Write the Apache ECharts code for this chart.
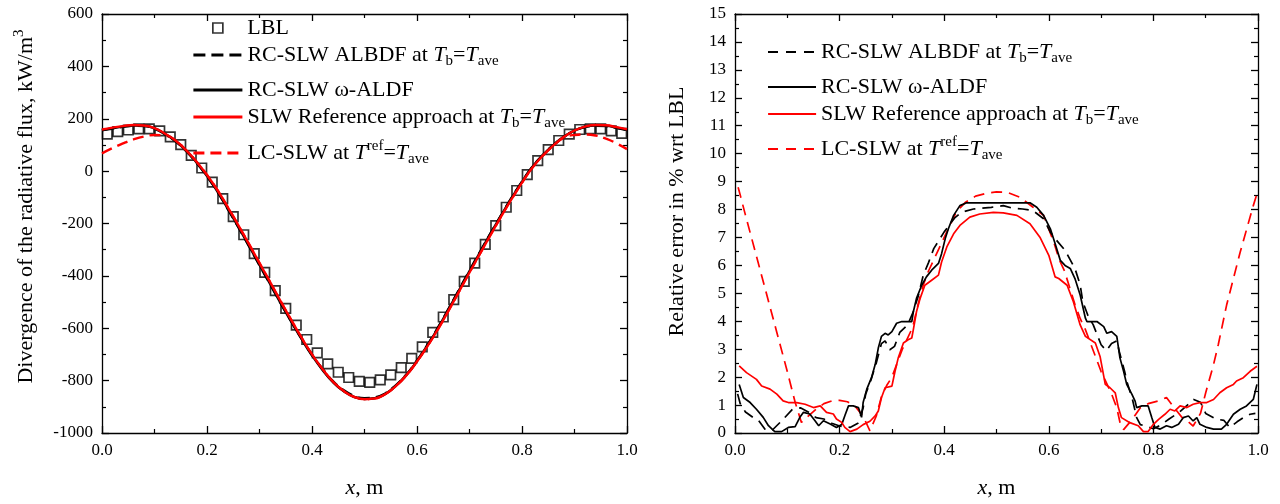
<!DOCTYPE html>
<html>
<head>
<meta charset="utf-8">
<script src="https://cdn.jsdelivr.net/npm/echarts@6.0.0/dist/echarts.min.js"></script>
<style>
html,body{margin:0;padding:0;background:#fff;}
#chart{width:1280px;height:504px;}
</style>
</head>
<body>
<div id="chart"></div>
<script>
// ---------------- DATA ----------------
// Left panel: divergence of the radiative flux (kW/m3)
const lblX = [0.01,0.03,0.05,0.07,0.09,0.11,0.13,0.15,0.17,0.19,0.21,0.23,0.25,0.27,0.29,0.31,0.33,0.35,0.37,0.39,0.41,0.43,0.45,0.47,0.49,0.51,0.53,0.55,0.57,0.59,0.61,0.63,0.65,0.67,0.69,0.71,0.73,0.75,0.77,0.79,0.81,0.83,0.85,0.87,0.89,0.91,0.93,0.95,0.97,0.99];
const lblY = [141,151,157,161,161,154,131,101,60,12,-42,-105,-174,-243,-315,-387,-456,-524,-588,-643,-694,-736,-768,-788,-803,-807,-797,-778,-750,-715,-671,-616,-557,-491,-421,-351,-280,-208,-138,-74,-13,40,82,117,141,159,161,161,154,144];

const fluxX = [0,0.02,0.04,0.06,0.08,0.10,0.12,0.14,0.16,0.18,0.20,0.22,0.24,0.26,0.28,0.30,0.32,0.34,0.36,0.38,0.40,0.42,0.44,0.46,0.48,0.50,0.52,0.54,0.56,0.58,0.60,0.62,0.64,0.66,0.68,0.70,0.72,0.74,0.76,0.78,0.80,0.82,0.84,0.86,0.88,0.90,0.92,0.94,0.96,0.98,1.00];
const fluxAlbdf = [156,163,169,173,172,162,141,114,77,32,-20,-79,-146,-215,-287,-359,-431,-503,-572,-639,-701,-755,-802,-836,-858,-867,-864,-848,-817,-776,-723,-663,-597,-526,-453,-380,-308,-238,-169,-102,-40,17,62,100,131,154,168,173,172,165,156];
const fluxOmega = [157,164,170,174,173,163,142,115,78,33,-19,-78,-145,-214,-286,-358,-430,-503,-573,-641,-704,-759,-806,-840,-862,-870,-867,-850,-819,-778,-725,-665,-599,-528,-455,-382,-310,-239,-170,-103,-41,17,62,100,132,155,169,174,173,166,157];
const fluxRef = [159,166,172,176,174,164,143,117,80,36,-15,-73,-139,-208,-279,-351,-423,-496,-567,-636,-700,-756,-804,-839,-862,-871,-868,-851,-820,-779,-727,-668,-603,-533,-460,-387,-315,-244,-174,-107,-44,14,60,98,131,155,170,176,175,168,160];
const fluxLc = [68,88,106,121,132,138,136,117,80,36,-15,-73,-139,-208,-279,-351,-423,-496,-567,-636,-700,-756,-804,-839,-862,-871,-868,-851,-820,-779,-727,-668,-603,-533,-460,-387,-315,-244,-174,-107,-44,14,60,98,128,138,140,136,124,106,84];

// Right panel: relative error in % wrt LBL, [x, error]
const errAlbdf = [[0.005,1.4],[0.01,1.05],[0.02,0.75],[0.035,0.55],[0.045,0.45],[0.057,0.14],[0.07,0.08],[0.09,0.45],[0.11,0.85],[0.125,0.9],[0.14,0.75],[0.155,0.55],[0.17,0.5],[0.185,0.35],[0.2,0.25],[0.22,0.2],[0.235,0.35],[0.245,0.9],[0.25,1.4],[0.26,1.9],[0.27,2.5],[0.28,3.2],[0.287,3.3],[0.296,2.98],[0.305,3.1],[0.315,3.6],[0.33,3.87],[0.34,4.3],[0.35,4.88],[0.36,5.65],[0.37,6.1],[0.38,6.6],[0.39,6.9],[0.4,7.2],[0.41,7.45],[0.42,7.7],[0.433,7.9],[0.456,8.02],[0.49,8.08],[0.513,8.14],[0.53,8.05],[0.55,8.02],[0.57,7.96],[0.59,7.67],[0.603,7.19],[0.612,6.96],[0.631,6.54],[0.65,5.89],[0.66,5.3],[0.665,4.7],[0.675,4.2],[0.685,3.87],[0.7,3.16],[0.71,2.95],[0.72,3.2],[0.73,3.3],[0.735,2.9],[0.745,2.2],[0.75,1.8],[0.76,1.2],[0.768,0.55],[0.775,0.3],[0.785,0.25],[0.8,0.15],[0.815,0.3],[0.83,0.5],[0.85,0.75],[0.865,1.0],[0.877,1.2],[0.89,1.1],[0.9,0.7],[0.92,0.5],[0.935,0.45],[0.946,0.2],[0.96,0.4],[0.972,0.55],[0.985,0.67],[0.995,0.7]];
const errOmega = [[0.008,1.74],[0.016,1.27],[0.029,1.09],[0.041,0.85],[0.054,0.56],[0.064,0.26],[0.076,0.05],[0.089,0.05],[0.102,0.2],[0.115,0.23],[0.124,0.56],[0.131,0.74],[0.143,0.68],[0.153,0.44],[0.16,0.26],[0.169,0.44],[0.182,0.32],[0.194,0.2],[0.204,0.3],[0.21,0.62],[0.217,0.97],[0.226,0.97],[0.236,0.91],[0.242,0.56],[0.245,1.09],[0.252,1.57],[0.261,1.98],[0.268,2.45],[0.274,3.04],[0.28,3.46],[0.287,3.57],[0.293,3.51],[0.3,3.63],[0.309,3.93],[0.319,3.99],[0.338,3.99],[0.341,4.34],[0.347,4.82],[0.357,5.29],[0.366,5.59],[0.376,5.83],[0.389,6.07],[0.395,6.42],[0.402,6.96],[0.408,7.31],[0.418,7.79],[0.43,8.14],[0.443,8.24],[0.564,8.24],[0.577,8.08],[0.59,7.79],[0.603,7.31],[0.612,6.78],[0.622,6.18],[0.631,6.0],[0.641,5.89],[0.65,5.53],[0.66,4.94],[0.67,4.11],[0.673,3.99],[0.692,3.99],[0.705,3.81],[0.711,3.57],[0.72,3.63],[0.73,3.46],[0.736,2.69],[0.743,2.21],[0.749,1.74],[0.759,1.38],[0.765,1.14],[0.768,0.91],[0.778,0.97],[0.79,0.97],[0.797,0.55],[0.803,0.2],[0.813,0.14],[0.825,0.26],[0.835,0.2],[0.848,0.31],[0.857,0.55],[0.867,0.61],[0.876,0.43],[0.883,0.55],[0.889,0.31],[0.902,0.2],[0.915,0.14],[0.93,0.14],[0.94,0.31],[0.953,0.67],[0.966,0.85],[0.978,0.97],[0.991,1.2],[0.998,1.74]];
const errRef = [[0.008,2.4],[0.022,2.16],[0.041,1.92],[0.051,1.68],[0.067,1.57],[0.08,1.39],[0.092,1.15],[0.102,1.09],[0.118,1.09],[0.134,1.03],[0.15,0.91],[0.163,0.97],[0.175,0.74],[0.188,0.68],[0.194,0.5],[0.204,0.38],[0.21,0.2],[0.22,0.05],[0.233,0.14],[0.245,0.3],[0.258,0.42],[0.268,0.61],[0.274,0.79],[0.28,1.26],[0.287,1.62],[0.3,1.68],[0.306,2.21],[0.312,2.68],[0.322,3.22],[0.331,3.34],[0.338,3.4],[0.341,3.7],[0.347,4.34],[0.354,4.82],[0.363,5.29],[0.376,5.47],[0.389,5.65],[0.395,6.12],[0.405,6.66],[0.418,7.13],[0.43,7.43],[0.449,7.73],[0.468,7.84],[0.494,7.9],[0.513,7.88],[0.539,7.79],[0.564,7.49],[0.583,7.01],[0.6,6.36],[0.612,5.59],[0.619,5.53],[0.635,5.29],[0.647,4.7],[0.66,3.87],[0.67,3.46],[0.689,3.22],[0.698,2.74],[0.708,1.74],[0.717,1.62],[0.727,1.44],[0.733,0.91],[0.739,0.55],[0.755,0.37],[0.771,0.26],[0.781,0.05],[0.79,0.05],[0.8,0.31],[0.81,0.49],[0.822,0.67],[0.832,0.85],[0.841,0.79],[0.851,0.97],[0.864,0.91],[0.876,1.03],[0.889,1.09],[0.902,1.09],[0.915,1.2],[0.927,1.44],[0.94,1.62],[0.953,1.74],[0.959,1.86],[0.972,1.98],[0.985,2.21],[0.998,2.39]];
const errLc = [[0.006,8.8],[0.02,7.8],[0.04,6.4],[0.06,5.0],[0.08,3.6],[0.1,2.2],[0.115,1.1],[0.127,0.38],[0.14,0.6],[0.155,0.85],[0.17,1.05],[0.185,1.15],[0.2,1.17],[0.215,1.12],[0.23,0.95],[0.245,0.6],[0.258,0.08],[0.27,0.6],[0.28,1.3],[0.29,1.7],[0.3,2.0],[0.31,2.5],[0.32,3.0],[0.33,3.4],[0.34,3.8],[0.35,4.6],[0.36,5.3],[0.37,5.8],[0.38,6.2],[0.39,6.6],[0.4,7.0],[0.41,7.4],[0.42,7.8],[0.43,8.05],[0.44,8.25],[0.46,8.48],[0.48,8.58],[0.5,8.63],[0.52,8.62],[0.545,8.44],[0.57,8.08],[0.59,7.79],[0.6,7.3],[0.61,6.8],[0.62,6.2],[0.63,5.8],[0.64,5.2],[0.65,4.6],[0.66,4.1],[0.67,3.7],[0.68,3.2],[0.69,2.7],[0.7,2.2],[0.71,1.8],[0.72,1.4],[0.73,0.9],[0.737,0.3],[0.743,0.12],[0.76,0.5],[0.775,0.9],[0.79,1.05],[0.81,1.15],[0.825,1.27],[0.84,0.9],[0.855,0.55],[0.867,0.4],[0.876,0.25],[0.89,0.7],[0.9,1.44],[0.915,2.45],[0.924,3.16],[0.94,4.58],[0.966,6.48],[0.991,8.14],[0.997,8.5]];

// Legend labels (rich text)
const legendLabels = {
  LBL: '{n|LBL}',
  ALBDF: '{n|RC-SLW ALBDF at }{i|T}{sub|b}{n|=}{i|T}{sub|ave}',
  OMEGA: '{n|RC-SLW ω-ALDF}',
  REF: '{n|SLW Reference approach at }{i|T}{sub|b}{n|=}{i|T}{sub|ave}',
  LC: '{n|LC-SLW at }{i|T}{sup|ref}{n|=}{i|T}{sub|ave}'
};

// ---------------- CHART ----------------
const FONT = "'Liberation Serif', 'Times New Roman', serif";
const rich = {
  n: {fontFamily: FONT, fontSize: 22, color: '#000', lineHeight: 28},
  i: {fontFamily: FONT, fontSize: 22, color: '#000', fontStyle: 'italic', lineHeight: 28},
  sub: {fontFamily: FONT, fontSize: 15, color: '#000', lineHeight: 10, verticalAlign: 'bottom'},
  sup: {fontFamily: FONT, fontSize: 15, color: '#000', lineHeight: 10, verticalAlign: 'top'}
};

function xAx(gridIndex, position, main) {
  return {
    type: 'value', gridIndex: gridIndex, position: position, min: 0, max: 1, interval: 0.2,
    axisLine: {show: true, onZero: false, lineStyle: {color: '#000', width: 1.3}},
    axisTick: {show: true, inside: true, length: 7, lineStyle: {color: '#000', width: 1.3}},
    minorTick: {show: true, splitNumber: 2, length: 4, lineStyle: {color: '#000', width: 1.2}},
    splitLine: {show: false}, minorSplitLine: {show: false},
    axisLabel: {show: main, margin: 9, fontFamily: FONT, fontSize: 17, color: '#000',
      formatter: v => v.toFixed(1)},
    name: main ? '{i|x}{n|, m}' : '', nameLocation: 'middle', nameGap: 41,
    nameTextStyle: {rich: rich}
  };
}
function yAx(gridIndex, position, main, min, max, interval, name, pad, gap) {
  return {
    type: 'value', gridIndex: gridIndex, position: position, min: min, max: max, interval: interval,
    axisLine: {show: true, onZero: false, lineStyle: {color: '#000', width: 1.3}},
    axisTick: {show: true, inside: true, length: 7, lineStyle: {color: '#000', width: 1.3}},
    minorTick: {show: true, splitNumber: 2, length: 4, lineStyle: {color: '#000', width: 1.2}},
    splitLine: {show: false}, minorSplitLine: {show: false},
    axisLabel: {show: main, margin: 9, fontFamily: FONT, fontSize: 17, color: '#000',
      formatter: v => String(v)},
    name: main ? name : '', nameLocation: 'middle', nameGap: gap || 50,
    nameTextStyle: {rich: rich, padding: [0, 0, 0, pad || 0]}
  };
}

const hideSymbol = {color: 'rgba(0,0,0,0)', borderWidth: 0, opacity: 0};
function legendRow(name, left, cy, opts) {
  const o = {
    data: [name], left: left, top: cy - 14, orient: 'vertical', padding: 0,
    itemWidth: 49, itemHeight: 14, itemGap: 0, selectedMode: false,
    itemStyle: hideSymbol,
    formatter: n => legendLabels[n],
    textStyle: {fontFamily: FONT, fontSize: 22, color: '#000', rich: rich}
  };
  return Object.assign(o, opts || {});
}

const lineL = 2.4, lineR = 1.7;
const chart = echarts.init(document.getElementById('chart'), null, {renderer: 'canvas'});
chart.setOption({
  backgroundColor: '#fff',
  animation: false,
  grid: [
    {left: 102, top: 14, width: 525, height: 423},
    {left: 735, top: 14, width: 523, height: 422}
  ],
  xAxis: [xAx(0, 'bottom', true), xAx(0, 'top', false), xAx(1, 'bottom', true), xAx(1, 'top', false)],
  yAxis: [
    yAx(0, 'left', true, -1000, 600, 200, '{n|Divergence of the radiative flux, kW/m}{sup|3}', 34, 62),
    yAx(0, 'right', false, -1000, 600, 200),
    yAx(1, 'left', true, 0, 15, 1, '{n|Relative error in % wrt LBL}', 24, 44),
    yAx(1, 'right', false, 0, 15, 1)
  ],
  legend: [
    legendRow('LBL', 212, 31, {itemHeight: 10, itemStyle: {},
      data: [{name: 'LBL', icon: 'path://M0,0L10,0L10,10L0,10Z',
      itemStyle: {color: 'rgba(0,0,0,0)', borderColor: '#000', borderWidth: 1.7}}]}),
    legendRow('ALBDF', 192, 58, {lineStyle: {width: 2.8}}),
    legendRow('OMEGA', 192, 93, {lineStyle: {width: 2.8}}),
    legendRow('REF', 192, 120, {lineStyle: {width: 2.8}}),
    legendRow('LC', 192, 153, {lineStyle: {width: 2.8}}),
    legendRow('ALBDF', 767, 55, {itemWidth: 48, lineStyle: {width: 2, type: [10, 8]}}),
    legendRow('OMEGA', 767, 90, {itemWidth: 48, lineStyle: {width: 2}}),
    legendRow('REF', 767, 117, {itemWidth: 48, lineStyle: {width: 2.2}}),
    legendRow('LC', 767, 149, {itemWidth: 48, lineStyle: {width: 2, type: [10, 8]}})
  ],
  series: [
    {name: 'LC', type: 'line', xAxisIndex: 0, yAxisIndex: 0, symbol: 'none', smooth: true,
     data: fluxX.map((x, i) => [x, fluxLc[i]]),
     lineStyle: {color: '#ff0000', width: lineL, type: [11, 6]}, itemStyle: {color: '#ff0000'}},
    {name: 'ALBDF', type: 'line', xAxisIndex: 0, yAxisIndex: 0, symbol: 'none', smooth: true,
     data: fluxX.map((x, i) => [x, fluxAlbdf[i]]),
     lineStyle: {color: '#000', width: lineL, type: [12, 6]}, itemStyle: {color: '#000'}},
    {name: 'OMEGA', type: 'line', xAxisIndex: 0, yAxisIndex: 0, symbol: 'none', smooth: true,
     data: fluxX.map((x, i) => [x, fluxOmega[i]]),
     lineStyle: {color: '#000', width: lineL}, itemStyle: {color: '#000'}},
    {name: 'REF', type: 'line', xAxisIndex: 0, yAxisIndex: 0, symbol: 'none', smooth: true,
     data: fluxX.map((x, i) => [x, fluxRef[i]]),
     lineStyle: {color: '#ff0000', width: lineL}, itemStyle: {color: '#ff0000'}},
    {name: 'LBL', type: 'scatter', xAxisIndex: 0, yAxisIndex: 0, symbol: 'rect', symbolSize: 9.5,
     data: lblX.map((x, i) => [x, lblY[i]]),
     itemStyle: {color: 'rgba(0,0,0,0)', borderColor: '#000', borderWidth: 1.7}},

    {name: 'LC', type: 'line', xAxisIndex: 2, yAxisIndex: 2, symbol: 'none', data: errLc,
     lineStyle: {color: '#ff0000', width: lineR, type: [11, 7]}, itemStyle: {color: '#ff0000'}},
    {name: 'ALBDF', type: 'line', xAxisIndex: 2, yAxisIndex: 2, symbol: 'none', data: errAlbdf,
     lineStyle: {color: '#000', width: lineR, type: [11, 7]}, itemStyle: {color: '#000'}},
    {name: 'OMEGA', type: 'line', xAxisIndex: 2, yAxisIndex: 2, symbol: 'none', data: errOmega,
     lineStyle: {color: '#000', width: lineR}, itemStyle: {color: '#000'}},
    {name: 'REF', type: 'line', xAxisIndex: 2, yAxisIndex: 2, symbol: 'none', data: errRef,
     lineStyle: {color: '#ff0000', width: lineR}, itemStyle: {color: '#ff0000'}}
  ]
});
</script>
</body>
</html>
